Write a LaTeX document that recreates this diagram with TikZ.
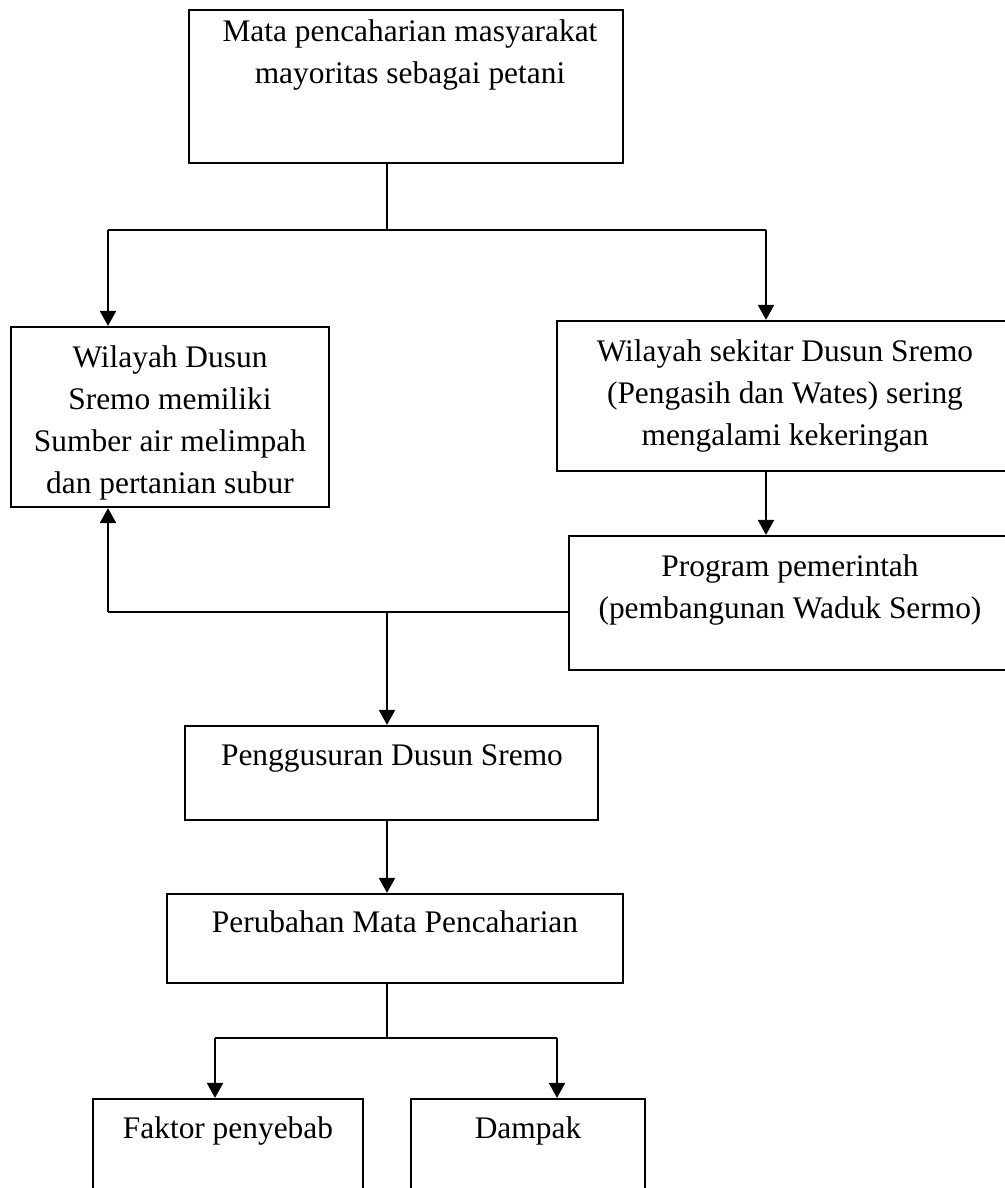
\documentclass[tikz,border=0pt]{standalone}
\usepackage{fontspec}
\setmainfont{Liberation Serif}
\usetikzlibrary{arrows.meta}
\tikzset{
  bx/.style n args={2}{draw, line width=1.1pt, inner sep=0pt, minimum width=#1*0.5pt, minimum height=#2*0.5pt},
  lbl/.style={inner sep=0pt, anchor=base, font=\fontsize{15.7}{21}\selectfont},
  con/.style={line width=1.1pt},
  arr/.style={con, -{Triangle[width=8pt,length=7.5pt]}}
}
\newcommand{\tl}[1]{\parbox[t]{240pt}{\centering #1}}
\begin{document}
\begin{tikzpicture}[x=0.5pt,y=-0.5pt]
\useasboundingbox (0,0) rectangle (1005,1188);
\fill[white] (0,0) rectangle (1005,1188);
\clip (0,0) rectangle (1005,1188);
% boxes
\node[bx={434}{153}] (top) at (406,86.5) {};
\node[bx={318}{180}] (left) at (170,417) {};
\node[bx={456}{150}] (right) at (785,396) {};
\node[bx={442}{134}] (prog) at (790,603) {};
\node[bx={413}{94}] (pengg) at (391.5,773) {};
\node[bx={456}{89}] (perub) at (395,938.5) {};
\node[bx={270}{101}] (faktor) at (228,1149.5) {};
\node[bx={234}{101}] (dampak) at (528,1149.5) {};
% texts
\node[lbl] (topT) at (410,42) {\tl{Mata pencaharian masyarakat\\mayoritas sebagai petani}};
\node[lbl] (leftT) at (170,367) {\tl{Wilayah Dusun\\Sremo memiliki\\Sumber air melimpah\\dan pertanian subur}};
\node[lbl] (rightT) at (785,361) {\tl{Wilayah sekitar Dusun Sremo\\(Pengasih dan Wates) sering\\mengalami kekeringan}};
\node[lbl] (progT) at (790,576) {\tl{Program pemerintah\\(pembangunan Waduk Sermo)}};
\node[lbl] (penggT) at (392,765) {\tl{Penggusuran Dusun Sremo}};
\node[lbl] (perubT) at (395,932) {\tl{Perubahan Mata Pencaharian}};
\node[lbl] (faktorT) at (228,1138) {\tl{Faktor penyebab}};
\node[lbl] (dampakT) at (528,1138) {\tl{Dampak}};
% junctions
\coordinate (j1) at (387,230);
\coordinate (jL) at (108,230);
\coordinate (jR) at (766,230);
\coordinate (jB) at (108,612);
\coordinate (jC) at (387,612);
\coordinate (j2) at (387,1038);
\coordinate (jF) at (215,1038);
\coordinate (jD) at (557,1038);
% connectors
\draw[con] (top.south -| j1) -- (j1);
\draw[con] (jL) -- (jR);
\draw[arr] (jL) -- (jL |- left.north);
\draw[arr] (jR) -- (jR |- right.north);
\draw[arr] (right.south -| jR) -- (prog.north -| jR);
\draw[con] (prog.west |- jB) -- (jB);
\draw[arr] (jB) -- (jB |- left.south);
\draw[arr] (jC) -- (pengg.north -| jC);
\draw[arr] (pengg.south -| jC) -- (perub.north -| jC);
\draw[con] (perub.south -| j2) -- (j2);
\draw[con] (jF) -- (jD);
\draw[arr] (jF) -- (jF |- faktor.north);
\draw[arr] (jD) -- (jD |- dampak.north);
\end{tikzpicture}
\end{document}
